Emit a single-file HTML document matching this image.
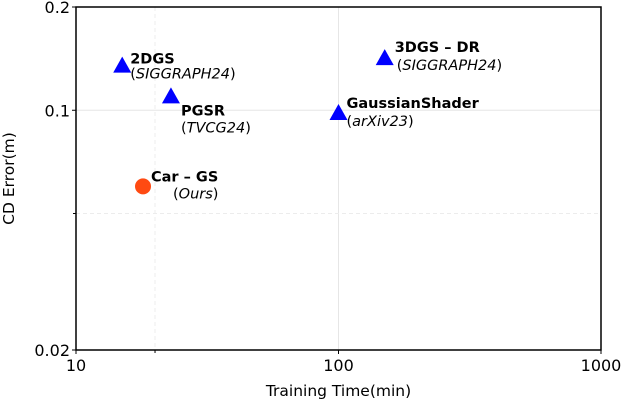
<!DOCTYPE html>
<html><head><meta charset="utf-8"><style>
body{margin:0;background:#fff}
svg{display:block;font-family:"DejaVu Sans","Liberation Sans",sans-serif}
</style></head><body>
<svg id="c" width="624" height="402">
<g id="grid"></g><g id="axes"></g><g id="marks"></g>
</svg>
<script>
const names=["2DGS","PGSR","Car \u2013 GS","GaussianShader","3DGS \u2013 DR"];
const venues=["SIGGRAPH24","TVCG24","Ours","arXiv23","SIGGRAPH24"];
const times=[15,23,18,100,150];
const errors=[0.134,0.109,0.060,0.0975,0.141];
const xTicks=[10,100,1000];
const yTicks=[0.02,0.1,0.2];
const yTickLabels=["0.02","0.1","0.2"];
const L=76,R=601,T=7,B=350;
const X=v=>L+(Math.log10(v)-1)/2*(R-L);
const Y=v=>B-(Math.log10(v)-Math.log10(0.02))*(B-T);
const NS="http://www.w3.org/2000/svg";
function mk(p,t,a){const e=document.createElementNS(NS,t);for(const k in a)e.setAttribute(k,a[k]);p.appendChild(e);return e;}
const g=document.getElementById('grid'),ax=document.getElementById('axes'),m=document.getElementById('marks');
let e=mk(g,'line',{x1:X(100),x2:X(100),y1:T,y2:B,stroke:'#e6e6e6','stroke-width':1});

e=mk(g,'line',{x1:L,x2:R,y1:Y(0.1),y2:Y(0.1),stroke:'#e6e6e6','stroke-width':1});

e=mk(g,'line',{x1:X(20),x2:X(20),y1:T,y2:B,stroke:'#ececec','stroke-dasharray':'4,3'});

e=mk(g,'line',{x1:L,x2:R,y1:Y(0.05),y2:Y(0.05),stroke:'#ececec','stroke-dasharray':'4,3'});

e=mk(ax,'rect',{x:L,y:T,width:R-L,height:B-T,fill:'none',stroke:'#000','stroke-width':1.5});

xTicks.forEach(v=>{mk(ax,'line',{x1:X(v),x2:X(v),y1:B,y2:B+4,stroke:'#000'});
 const t=mk(ax,'text',{x:X(v),y:B+21,'text-anchor':'middle','font-size':16});t.textContent=v;
 });
mk(ax,'line',{x1:X(20),x2:X(20),y1:B,y2:B+3,stroke:'#000'});
yTicks.forEach((v,i)=>{mk(ax,'line',{x1:L-4,x2:L,y1:Y(v),y2:Y(v),stroke:'#000'});
 const t=mk(ax,'text',{x:L-6,y:Y(v)+6,'text-anchor':'end','font-size':16});t.textContent=yTickLabels[i];
 });
mk(ax,'line',{x1:L-3,x2:L,y1:Y(0.05),y2:Y(0.05),stroke:'#000'});
let t=mk(ax,'text',{x:(L+R)/2,y:396,'text-anchor':'middle','font-size':15.5});t.textContent='Training Time(min)';

t=mk(ax,'text',{x:0,y:0,'text-anchor':'middle','font-size':15.5,transform:`translate(14,${(T+B)/2}) rotate(-90)`});t.textContent='CD Error(m)';

const off=[[8,-3,8,10],[10,18,10,12],[8,-5,30,12],[8,-6,8,13],[10,-7,12,13]];
names.forEach((n,i)=>{const x=X(times[i]),y=Y(errors[i]);
 let mark;
 if(i===2){mark=mk(m,'circle',{cx:x,cy:y,r:8,fill:'#ff4a12'});}
 else{mark=mk(m,'polygon',{points:`${x},${y-10} ${x-9},${y+6} ${x+9},${y+6}`,fill:'#0000ff'});}
 
 
 const o=off[i];
 const a=mk(m,'text',{x:x+o[0],y:y+o[1],'font-size':14.5,'font-weight':'bold'});a.textContent=n;
 
 const b=mk(m,'text',{x:x+o[2],y:y+o[1]+o[3]+5,'font-size':14.5});
 b.innerHTML='(<tspan font-style="italic">'+venues[i]+'</tspan>)';
 
});
</script>
</body></html>
